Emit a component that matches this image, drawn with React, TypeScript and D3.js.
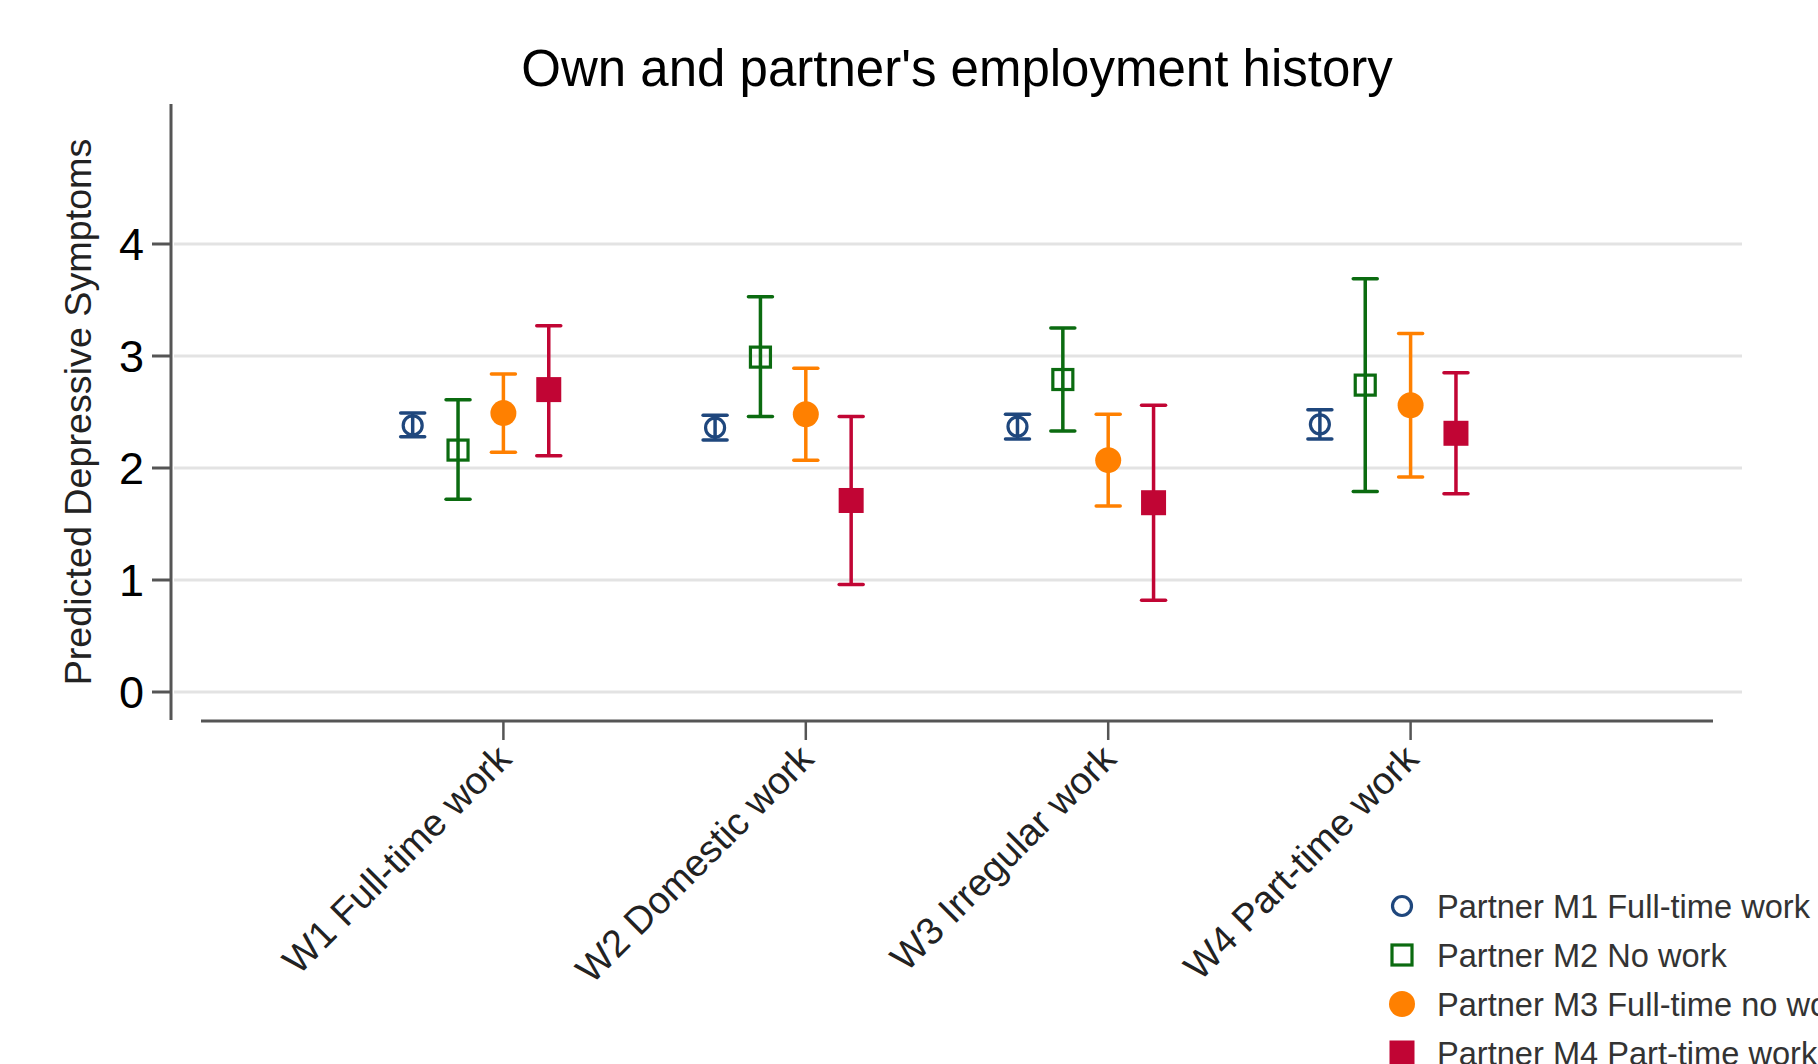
import React, { useEffect, useRef } from "react";
import * as d3 from "d3";

const categories = [
  "W1 Full-time work",
  "W2 Domestic work",
  "W3 Irregular work",
  "W4 Part-time work",
];
const seriesNames = [
  "Partner M1 Full-time work",
  "Partner M2 No work",
  "Partner M3 Full-time no work",
  "Partner M4 Part-time work",
];

// predicted values and 95% CI, one array per partner category
const m1Mean = [2.38, 2.36, 2.37, 2.39];
const m1Low = [2.28, 2.25, 2.26, 2.26];
const m1High = [2.49, 2.47, 2.48, 2.52];

const m2Mean = [2.16, 2.99, 2.79, 2.74];
const m2Low = [1.72, 2.46, 2.33, 1.79];
const m2High = [2.61, 3.53, 3.25, 3.69];

const m3Mean = [2.49, 2.48, 2.07, 2.56];
const m3Low = [2.14, 2.07, 1.66, 1.92];
const m3High = [2.84, 2.89, 2.48, 3.2];

const m4Mean = [2.7, 1.71, 1.69, 2.31];
const m4Low = [2.11, 0.96, 0.82, 1.77];
const m4High = [3.27, 2.46, 2.56, 2.85];

const yTicks = [0, 1, 2, 3, 4];

const W = 1818;
const H = 1064;
const FONT = "'Liberation Sans', Arial, sans-serif";

const colors = ["#1f477d", "#0b6b10", "#ff8000", "#c10534"];
const dodge = [-0.3, -0.15, 0, 0.15];

const App = () => {
  const ref = useRef<SVGSVGElement>(null);

  useEffect(() => {
    const svg = d3.select(ref.current);
    svg.selectAll("*").remove();

    const series = [
      { name: seriesNames[0], mean: m1Mean, lo: m1Low, hi: m1High },
      { name: seriesNames[1], mean: m2Mean, lo: m2Low, hi: m2High },
      { name: seriesNames[2], mean: m3Mean, lo: m3Low, hi: m3High },
      { name: seriesNames[3], mean: m4Mean, lo: m4Low, hi: m4High },
    ];

    const x = d3.scaleLinear().domain([0, categories.length + 1]).range([201, 1713]);
    const y = d3.scaleLinear().domain([-0.25, 5.25]).range([720, 104]);

    svg.append("rect").attr("width", W).attr("height", H).attr("fill", "#fff");

    // title
    svg
      .append("text")
      .attr("x", 957)
      .attr("y", 86)
      .attr("text-anchor", "middle")
      .attr("font-family", FONT)
      .attr("font-size", 51)
      .attr("fill", "#000")
      .text("Own and partner's employment history");

    // gridlines
    svg
      .append("g")
      .selectAll("line")
      .data(yTicks)
      .join("line")
      .attr("x1", 174)
      .attr("x2", 1742)
      .attr("y1", (d) => y(d))
      .attr("y2", (d) => y(d))
      .attr("stroke", "#e3e3e3")
      .attr("stroke-width", 3);

    // y axis
    const yAxis = svg.append("g").attr("transform", "translate(171,0)");
    yAxis.append("line").attr("y1", y(5.25)).attr("y2", y(-0.25)).attr("stroke", "#555").attr("stroke-width", 3);
    yAxis
      .selectAll("line.tick")
      .data(yTicks)
      .join("line")
      .attr("class", "tick")
      .attr("x1", -19)
      .attr("x2", 0)
      .attr("y1", (d) => y(d))
      .attr("y2", (d) => y(d))
      .attr("stroke", "#555")
      .attr("stroke-width", 3);
    yAxis
      .selectAll("text")
      .data(yTicks)
      .join("text")
      .attr("x", -27)
      .attr("y", (d) => y(d))
      .attr("dy", "0.36em")
      .attr("text-anchor", "end")
      .attr("font-family", FONT)
      .attr("font-size", 45)
      .attr("fill", "#000")
      .text((d) => d3.format("d")(d));

    svg
      .append("text")
      .attr("transform", "translate(78,412) rotate(-90)")
      .attr("dy", "0.35em")
      .attr("text-anchor", "middle")
      .attr("font-family", FONT)
      .attr("font-size", 37.7)
      .attr("fill", "#222")
      .text("Predicted Depressive Symptoms");

    // x axis
    const xAxis = svg.append("g").attr("transform", "translate(0,721)");
    xAxis.append("line").attr("x1", x(0)).attr("x2", x(5)).attr("stroke", "#555").attr("stroke-width", 3);
    xAxis
      .selectAll("line.tick")
      .data(categories)
      .join("line")
      .attr("class", "tick")
      .attr("x1", (d, i) => x(i + 1))
      .attr("x2", (d, i) => x(i + 1))
      .attr("y1", 0)
      .attr("y2", 19)
      .attr("stroke", "#555")
      .attr("stroke-width", 2.5);
    xAxis
      .selectAll("text")
      .data(categories)
      .join("text")
      .attr("transform", (d, i) => `translate(${x(i + 1) + 10},${40}) rotate(-45)`)
      .attr("text-anchor", "end")
      .attr("font-family", FONT)
      .attr("font-size", 38)
      .attr("fill", "#222")
      .text((d) => d);

    // error bars
    const capW = 12;
    series.forEach((s, si) => {
      const g = svg.append("g").attr("stroke", colors[si]).attr("stroke-width", 3.5).attr("fill", "none");
      s.mean.forEach((m, ci) => {
        const cx = x(ci + 1 + dodge[si]);
        g.append("line").attr("x1", cx).attr("x2", cx).attr("y1", y(s.lo[ci])).attr("y2", y(s.hi[ci]));
        g.append("line")
          .attr("x1", cx - capW)
          .attr("x2", cx + capW)
          .attr("y1", y(s.lo[ci]))
          .attr("y2", y(s.lo[ci]))
          .attr("stroke-linecap", "round");
        g.append("line")
          .attr("x1", cx - capW)
          .attr("x2", cx + capW)
          .attr("y1", y(s.hi[ci]))
          .attr("y2", y(s.hi[ci]))
          .attr("stroke-linecap", "round");
      });
    });

    const drawMarker = (g, si, cx, cy) => {
      if (si === 0) {
        g.append("circle").attr("cx", cx).attr("cy", cy).attr("r", 9.5).attr("fill", "none").attr("stroke", colors[0]).attr("stroke-width", 3.2);
      } else if (si === 1) {
        g.append("rect").attr("x", cx - 10).attr("y", cy - 10).attr("width", 20).attr("height", 20).attr("fill", "none").attr("stroke", colors[1]).attr("stroke-width", 3.2);
      } else if (si === 2) {
        g.append("circle").attr("cx", cx).attr("cy", cy).attr("r", 13).attr("fill", colors[2]);
      } else {
        g.append("rect").attr("x", cx - 12.5).attr("y", cy - 12.5).attr("width", 25).attr("height", 25).attr("fill", colors[3]);
      }
    };

    // markers
    series.forEach((s, si) => {
      const g = svg.append("g");
      s.mean.forEach((m, ci) => drawMarker(g, si, x(ci + 1 + dodge[si]), y(m)));
    });

    // legend (runs off the right/bottom edge as in the original export)
    const legend = svg.append("g");
    series.forEach((s, si) => {
      const ly = 906 + si * 49;
      drawMarker(legend, si, 1402, ly);
      legend
        .append("text")
        .attr("x", 1437)
        .attr("y", ly)
        .attr("dy", "0.36em")
        .attr("font-family", FONT)
        .attr("font-size", 32.6)
        .attr("fill", "#333")
        .text(s.name);
    });
  }, []);

  return (
    <svg
      ref={ref}
      width={W}
      height={H}
      viewBox={`0 0 ${W} ${H}`}
      style={{ position: "absolute", left: 0, top: 0, display: "block" }}
    />
  );
};

export default App;
